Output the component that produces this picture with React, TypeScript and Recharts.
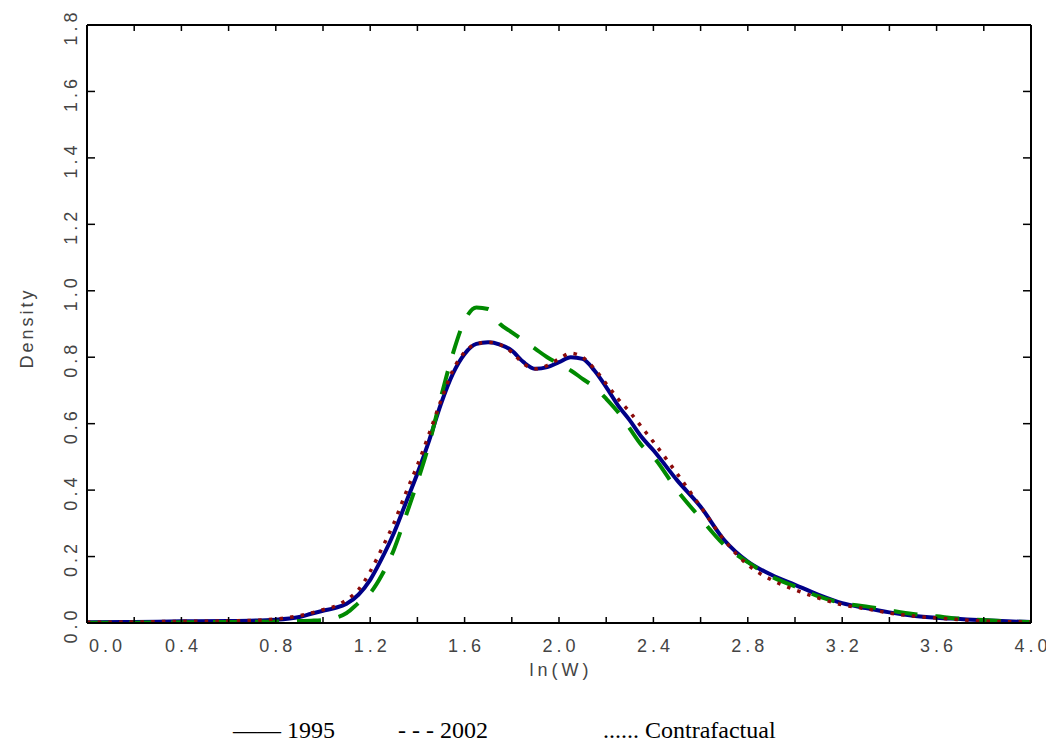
import React from 'react';
import { LineChart, Line, XAxis, YAxis } from 'recharts';

const xs = [0, 0.2, 0.4, 0.6, 0.8, 0.9, 0.95, 1.0, 1.05, 1.1, 1.15, 1.2, 1.25, 1.3, 1.35, 1.4, 1.45, 1.5, 1.55, 1.6, 1.65, 1.7, 1.75, 1.8, 1.85, 1.9, 1.95, 2.0, 2.05, 2.1, 2.15, 2.2, 2.25, 2.3, 2.35, 2.4, 2.5, 2.6, 2.7, 2.8, 2.9, 3.0, 3.1, 3.2, 3.3, 3.4, 3.5, 3.6, 3.7, 3.8, 3.9, 4.0];

const y1995 = [0.002, 0.003, 0.005, 0.006, 0.01, 0.018, 0.028, 0.037, 0.045, 0.058, 0.085, 0.13, 0.195, 0.27, 0.36, 0.45, 0.55, 0.66, 0.75, 0.81, 0.84, 0.845, 0.838, 0.82, 0.785, 0.765, 0.77, 0.785, 0.8, 0.795, 0.76, 0.71, 0.655, 0.61, 0.56, 0.52, 0.43, 0.35, 0.25, 0.185, 0.145, 0.115, 0.085, 0.06, 0.045, 0.032, 0.022, 0.016, 0.012, 0.008, 0.005, 0.003];

const y2002 = [0.001, 0.001, 0.002, 0.003, 0.004, 0.006, 0.007, 0.009, 0.015, 0.03, 0.06, 0.09, 0.145, 0.22, 0.32, 0.425, 0.54, 0.68, 0.81, 0.91, 0.95, 0.945, 0.9, 0.875, 0.85, 0.825, 0.8, 0.78, 0.76, 0.735, 0.71, 0.675, 0.635, 0.585, 0.535, 0.5, 0.4, 0.315, 0.235, 0.183, 0.14, 0.11, 0.08, 0.06, 0.05, 0.038, 0.027, 0.02, 0.013, 0.009, 0.005, 0.003];

const yContra = [0.002, 0.003, 0.005, 0.006, 0.012, 0.022, 0.03, 0.04, 0.05, 0.07, 0.1, 0.155, 0.225, 0.3, 0.39, 0.475, 0.57, 0.67, 0.76, 0.815, 0.84, 0.845, 0.838, 0.815, 0.78, 0.765, 0.775, 0.795, 0.812, 0.8, 0.765, 0.72, 0.675, 0.635, 0.59, 0.545, 0.45, 0.35, 0.25, 0.175, 0.13, 0.1, 0.075, 0.055, 0.043, 0.03, 0.021, 0.015, 0.01, 0.006, 0.004, 0.003];

const xTicks = [0, 0.2, 0.4, 0.6, 0.8, 1.0, 1.2, 1.4, 1.6, 1.8, 2.0, 2.2, 2.4, 2.6, 2.8, 3.0, 3.2, 3.4, 3.6, 3.8, 4.0];
const yTicks = [0, 0.2, 0.4, 0.6, 0.8, 1.0, 1.2, 1.4, 1.6, 1.8];

const legendItems = [
  { symbol: '\u2014\u2014', label: '1995', x: 225 },
  { symbol: '- - -', label: '2002', x: 390 },
  { symbol: '......', label: 'Contrafactual', x: 595 },
];

const data = xs.map((x, i) => ({ x, a: y1995[i], b: y2002[i], c: yContra[i] }));

const CHART_H = 700;
const MARGIN_BOTTOM = 25;
const XAXIS_H = 60;
const PLOT_TOP = 17;
const PLOT_H = CHART_H - MARGIN_BOTTOM - XAXIS_H - PLOT_TOP;

const tickFont = {
  fontFamily: '"Liberation Sans", Arial, sans-serif',
  fontSize: 18,
  letterSpacing: 4,
  fill: '#444',
};

const XTickBottom = (props: any) => {
  const { x, y, payload } = props;
  const v = payload.value as number;
  const idx = Math.round(v * 5);
  const labeled = idx % 2 === 0;
  const top = y - PLOT_H;
  return (
    <g>
      <line x1={x} y1={y} x2={x} y2={y - 6} stroke="#000" strokeWidth={1.5} />
      <line x1={x} y1={top} x2={x} y2={top + 6} stroke="#000" strokeWidth={1.5} />
      {labeled && (
        <text x={x + 2} y={y + 29} textAnchor={v === 0 ? 'start' : 'middle'} style={tickFont}>
          {v.toFixed(1)}
        </text>
      )}
    </g>
  );
};

const YTickLeft = (props: any) => {
  const { x, y, payload } = props;
  const v = payload.value as number;
  return (
    <g>
      <line x1={x} y1={y} x2={x + 8} y2={y} stroke="#000" strokeWidth={1.5} />
      <text x={x - 10} y={y + 2} transform={`rotate(-90, ${x - 10}, ${y + 2})`} textAnchor="middle" style={tickFont}>
        {v.toFixed(1)}
      </text>
    </g>
  );
};

const YTickRight = (props: any) => {
  const { x, y } = props;
  return <line x1={x} y1={y} x2={x - 8} y2={y} stroke="#000" strokeWidth={1.5} />;
};

export default function App() {
  return (
    <div style={{ position: 'relative', width: 1046, height: 738 }}>
      <LineChart width={1046} height={CHART_H} data={data} margin={{ top: 0, right: 0, bottom: MARGIN_BOTTOM, left: 0 }}>
        <XAxis
          dataKey="x"
          type="number"
          domain={[0, 4]}
          allowDataOverflow
          ticks={xTicks}
          interval={0}
          height={XAXIS_H}
          tickSize={0}
          tickMargin={0}
          tickLine={false}
          tick={<XTickBottom />}
          axisLine={{ stroke: '#000', strokeWidth: 2 }}
          label={{
            value: 'ln(W)',
            content: (p: any) => {
              const vb = p.viewBox;
              return (
                <text x={vb.x + vb.width / 2 + 2} y={vb.y + 53} textAnchor="middle" style={tickFont}>
                  ln(W)
                </text>
              );
            },
          }}
        />
        <XAxis
          xAxisId="top"
          dataKey="x"
          orientation="top"
          type="number"
          domain={[0, 4]}
          allowDataOverflow
          ticks={xTicks}
          height={PLOT_TOP}
          tick={false}
          tickLine={false}
          axisLine={{ stroke: '#000', strokeWidth: 2 }}
        />
        <YAxis
          type="number"
          domain={[0, 1.8]}
          allowDataOverflow
          ticks={yTicks}
          interval={0}
          width={79}
          tickSize={0}
          tickMargin={0}
          tickLine={false}
          tick={<YTickLeft />}
          axisLine={{ stroke: '#000', strokeWidth: 2 }}
          label={{
            value: 'Density',
            content: (p: any) => {
              const vb = p.viewBox;
              const cx = 25;
              const cy = vb.y + vb.height / 2 + 4;
              return (
                <text x={cx} y={cy} transform={`rotate(-90, ${cx}, ${cy})`} textAnchor="middle" style={{ ...tickFont, letterSpacing: 3 }}>
                  Density
                </text>
              );
            },
          }}
        />
        <YAxis
          yAxisId="right"
          orientation="right"
          type="number"
          domain={[0, 1.8]}
          allowDataOverflow
          ticks={yTicks}
          interval={0}
          width={23}
          tickSize={0}
          tickMargin={0}
          tickLine={false}
          tick={<YTickRight />}
          axisLine={{ stroke: '#000', strokeWidth: 2 }}
        />
        <Line dataKey="a" type="monotone" stroke="#000088" strokeWidth={4} dot={false} isAnimationActive={false} />
        <Line xAxisId="top" yAxisId="right" dataKey="b" type="monotone" stroke="#008a00" strokeWidth={4} strokeDasharray="24 18" dot={false} isAnimationActive={false} />
        <Line dataKey="c" type="monotone" stroke="#8b0a0a" strokeWidth={3.5} strokeDasharray="3.5 7.2" dot={false} isAnimationActive={false} />
      </LineChart>
      <svg width={1046} height={738} style={{ position: 'absolute', left: 0, top: 0, pointerEvents: 'none' }}>
        {legendItems.map((it) => (
          <text key={it.label} x={it.x} y={730} style={{ fontFamily: '"Liberation Serif", "Times New Roman", serif', fontSize: 24, fill: '#000' }}>
            {it.symbol + ' ' + it.label}
          </text>
        ))}
      </svg>
    </div>
  );
}
